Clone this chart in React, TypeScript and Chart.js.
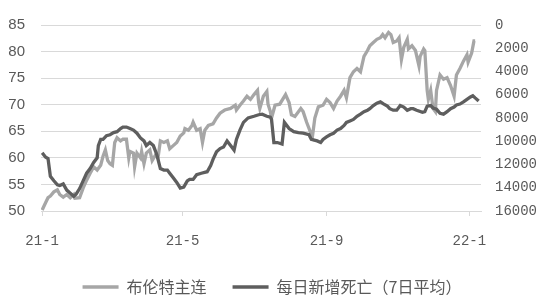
import React, { useEffect, useRef } from "react";
import { Chart, registerables } from "chart.js";

Chart.register(...registerables);

// x values are days since 2021-01-01
const xTickDays = [0, 120, 243, 365];
const xTickLabels = ["21-1", "21-5", "21-9", "22-1"];

const brentDays = [0, 3, 5, 7, 10, 13, 15, 18, 21, 24, 27, 28, 32, 35, 38, 41, 44, 47, 50, 52, 54, 56, 58, 60, 62, 64, 67, 69, 72, 74, 75, 78, 79, 81, 84, 85, 87, 89, 92, 94, 97, 99, 101, 104, 107, 109, 112, 115, 118, 121, 122, 125, 128, 129, 132, 135, 137, 139, 142, 146, 149, 152, 156, 161, 165, 166, 169, 172, 175, 178, 181, 184, 185, 186, 189, 192, 193, 195, 196, 199, 203, 208, 211, 213, 216, 221, 223, 226, 229, 231, 233, 236, 240, 243, 246, 249, 252, 255, 258, 260, 263, 266, 269, 272, 275, 278, 280, 283, 286, 289, 291, 293, 296, 298, 300, 303, 305, 307, 309, 312, 313, 316, 319, 322, 323, 326, 327, 329, 330, 332, 334, 336, 337, 340, 343, 346, 349, 352, 354, 357, 360, 363, 364, 367, 369, 370];
const brentValues = [50.2, 51.6, 52.5, 52.8, 53.6, 54.0, 53.1, 52.6, 53.1, 52.5, 53.1, 52.4, 52.5, 54.3, 55.8, 57.1, 58.3, 57.7, 58.6, 60.3, 61.5, 59.5, 58.9, 58.6, 62.9, 63.8, 63.2, 63.5, 63.5, 60.0, 61.2, 60.9, 58.3, 60.9, 60.0, 61.2, 58.9, 60.9, 61.5, 59.5, 60.6, 60.0, 63.2, 62.9, 63.2, 61.7, 62.3, 62.9, 64.1, 64.7, 65.5, 65.2, 66.1, 66.7, 65.2, 65.5, 62.9, 65.2, 66.1, 66.4, 67.5, 68.4, 69.0, 69.3, 69.9, 69.0, 69.9, 70.7, 71.6, 71.0, 71.9, 72.7, 70.4, 69.3, 71.6, 72.5, 70.1, 68.7, 67.5, 69.9, 70.1, 71.9, 70.4, 68.1, 67.8, 69.3, 68.7, 66.7, 65.0, 64.1, 67.5, 69.6, 69.9, 71.0, 70.4, 69.3, 70.7, 71.6, 72.7, 71.3, 75.1, 76.2, 76.8, 76.2, 79.1, 80.2, 81.1, 81.7, 82.3, 82.6, 83.2, 82.6, 83.6, 83.2, 81.7, 82.0, 82.6, 78.5, 80.8, 82.3, 80.5, 81.1, 80.2, 77.3, 79.1, 80.5, 80.2, 72.7, 71.0, 72.7, 69.3, 68.7, 72.7, 75.6, 74.8, 75.1, 73.6, 71.6, 75.6, 76.8, 78.2, 79.4, 78.0, 79.7, 82.0, 82.0];

const deathDays = [0, 3, 5, 7, 10, 13, 15, 18, 21, 24, 27, 29, 32, 35, 38, 41, 44, 47, 48, 50, 52, 55, 58, 61, 64, 67, 69, 72, 75, 78, 81, 84, 87, 89, 92, 95, 98, 101, 104, 107, 109, 112, 115, 118, 121, 124, 126, 129, 132, 136, 141, 144, 146, 149, 152, 155, 158, 161, 164, 166, 169, 172, 176, 181, 185, 188, 192, 195, 196, 198, 201, 205, 207, 211, 215, 219, 223, 228, 230, 235, 238, 240, 243, 246, 249, 252, 255, 258, 260, 263, 266, 269, 272, 275, 278, 280, 283, 286, 289, 292, 295, 297, 300, 303, 306, 309, 312, 315, 317, 320, 325, 327, 329, 332, 334, 337, 340, 343, 346, 349, 352, 354, 357, 360, 363, 366, 368, 370, 373];
const deathValues = [11000, 11370, 11480, 13010, 13400, 13750, 13800, 13670, 14200, 14470, 14730, 14550, 14070, 13410, 12750, 12350, 11820, 11420, 10370, 9840, 9840, 9520, 9440, 9260, 9180, 8910, 8780, 8780, 8910, 9040, 9310, 9710, 9970, 10370, 10110, 10370, 11160, 12350, 12480, 12480, 12750, 13150, 13540, 14020, 13940, 13410, 13280, 13280, 12880, 12750, 12620, 12090, 11560, 10900, 10630, 10500, 9970, 10370, 10760, 9840, 9040, 8380, 7990, 7850, 7720, 7670, 7850, 7930, 8120, 10110, 10110, 10240, 8380, 8910, 9180, 9260, 9310, 9440, 9840, 9970, 10110, 9840, 9630, 9440, 9310, 9040, 8910, 8640, 8380, 8250, 8120, 7850, 7670, 7460, 7330, 7200, 6930, 6720, 6610, 6800, 6980, 7200, 7330, 7330, 6930, 7060, 7330, 7200, 7200, 7330, 7510, 7460, 6980, 6930, 7140, 7250, 7590, 7670, 7460, 7200, 7060, 6880, 6800, 6610, 6400, 6190, 6080, 6270, 6540];

const seriesNames = ["布伦特主连", "每日新增死亡（7日平均）"];

const textColor = "#595959";
const gridColor = "#d9d9d9";

const legendShift = {
  id: "legendShift",
  afterLayout(chart: any) {
    const l = chart.legend;
    if (l) {
      l.top += 6;
      l.bottom += 6;
    }
  },
};

export default function App() {
  const ref = useRef<HTMLCanvasElement>(null);

  useEffect(() => {
    if (!ref.current) return;
    const chart = new Chart(ref.current, {
      type: "line",
      data: {
        datasets: [
          {
            label: seriesNames[0],
            data: brentDays.map((d, i) => ({ x: d, y: brentValues[i] })),
            borderColor: "#a6a6a6",
            backgroundColor: "#a6a6a6",
            borderWidth: 3.3,
            pointRadius: 0,
            tension: 0,
            yAxisID: "y",
            order: 2,
          },
          {
            label: seriesNames[1],
            data: deathDays.map((d, i) => ({ x: d, y: deathValues[i] })),
            borderColor: "#5e5e5e",
            backgroundColor: "#5e5e5e",
            borderWidth: 3.3,
            pointRadius: 0,
            tension: 0,
            yAxisID: "y1",
            order: 1,
          },
        ],
      },
      options: {
        responsive: false,
        animation: false,
        layout: { padding: { top: 9, left: 0, right: 0, bottom: 0 } },
        plugins: {
          tooltip: { enabled: false },
          legend: {
            position: "bottom",
            labels: {
              usePointStyle: true,
              pointStyle: "line",
              pointStyleWidth: 36,
              boxWidth: 36,
              padding: 26,
              color: textColor,
              font: { family: "'Noto Sans CJK SC', sans-serif", size: 16 },
              sort: (a: any, b: any) => a.datasetIndex - b.datasetIndex,
            },
          },
        },
        scales: {
          x: {
            type: "linear",
            min: -1,
            max: 375,
            afterBuildTicks: (scale: any) => {
              scale.ticks = xTickDays.map((v) => ({ value: v }));
            },
            afterFit: (scale: any) => {
              scale.height = 36;
            },
            ticks: {
              autoSkip: false,
              maxRotation: 0,
              padding: 17,
              color: textColor,
              font: { family: "'Liberation Mono', monospace", size: 14 },
              callback: (v: any) => {
                const i = xTickDays.indexOf(Number(v));
                return i >= 0 ? xTickLabels[i] : "";
              },
            },
            grid: {
              drawOnChartArea: false,
              drawTicks: true,
              tickLength: 5,
              color: gridColor,
            },
            border: { display: true, color: gridColor },
          },
          y: {
            position: "left",
            min: 50,
            max: 85,
            afterFit: (scale: any) => {
              scale.width = 41;
            },
            ticks: {
              stepSize: 5,
              padding: 16,
              color: textColor,
              font: { family: "'Liberation Sans', Arial, sans-serif", size: 15 },
            },
            grid: { color: gridColor, drawTicks: false },
            border: { display: false },
          },
          y1: {
            position: "right",
            min: 0,
            max: 16000,
            reverse: true,
            afterFit: (scale: any) => {
              scale.width = 63;
            },
            ticks: {
              stepSize: 2000,
              padding: 14,
              color: textColor,
              font: { family: "'Liberation Mono', monospace", size: 14 },
              callback: (v: any) => String(v),
            },
            grid: { display: false, drawTicks: false },
            border: { display: false },
          },
        },
      },
      plugins: [legendShift],
    });
    return () => chart.destroy();
  }, []);

  return (
    <div style={{ position: "fixed", left: 0, top: 0, width: 544, height: 299, background: "#fff" }}>
      <canvas ref={ref} width={544} height={299} />
    </div>
  );
}
